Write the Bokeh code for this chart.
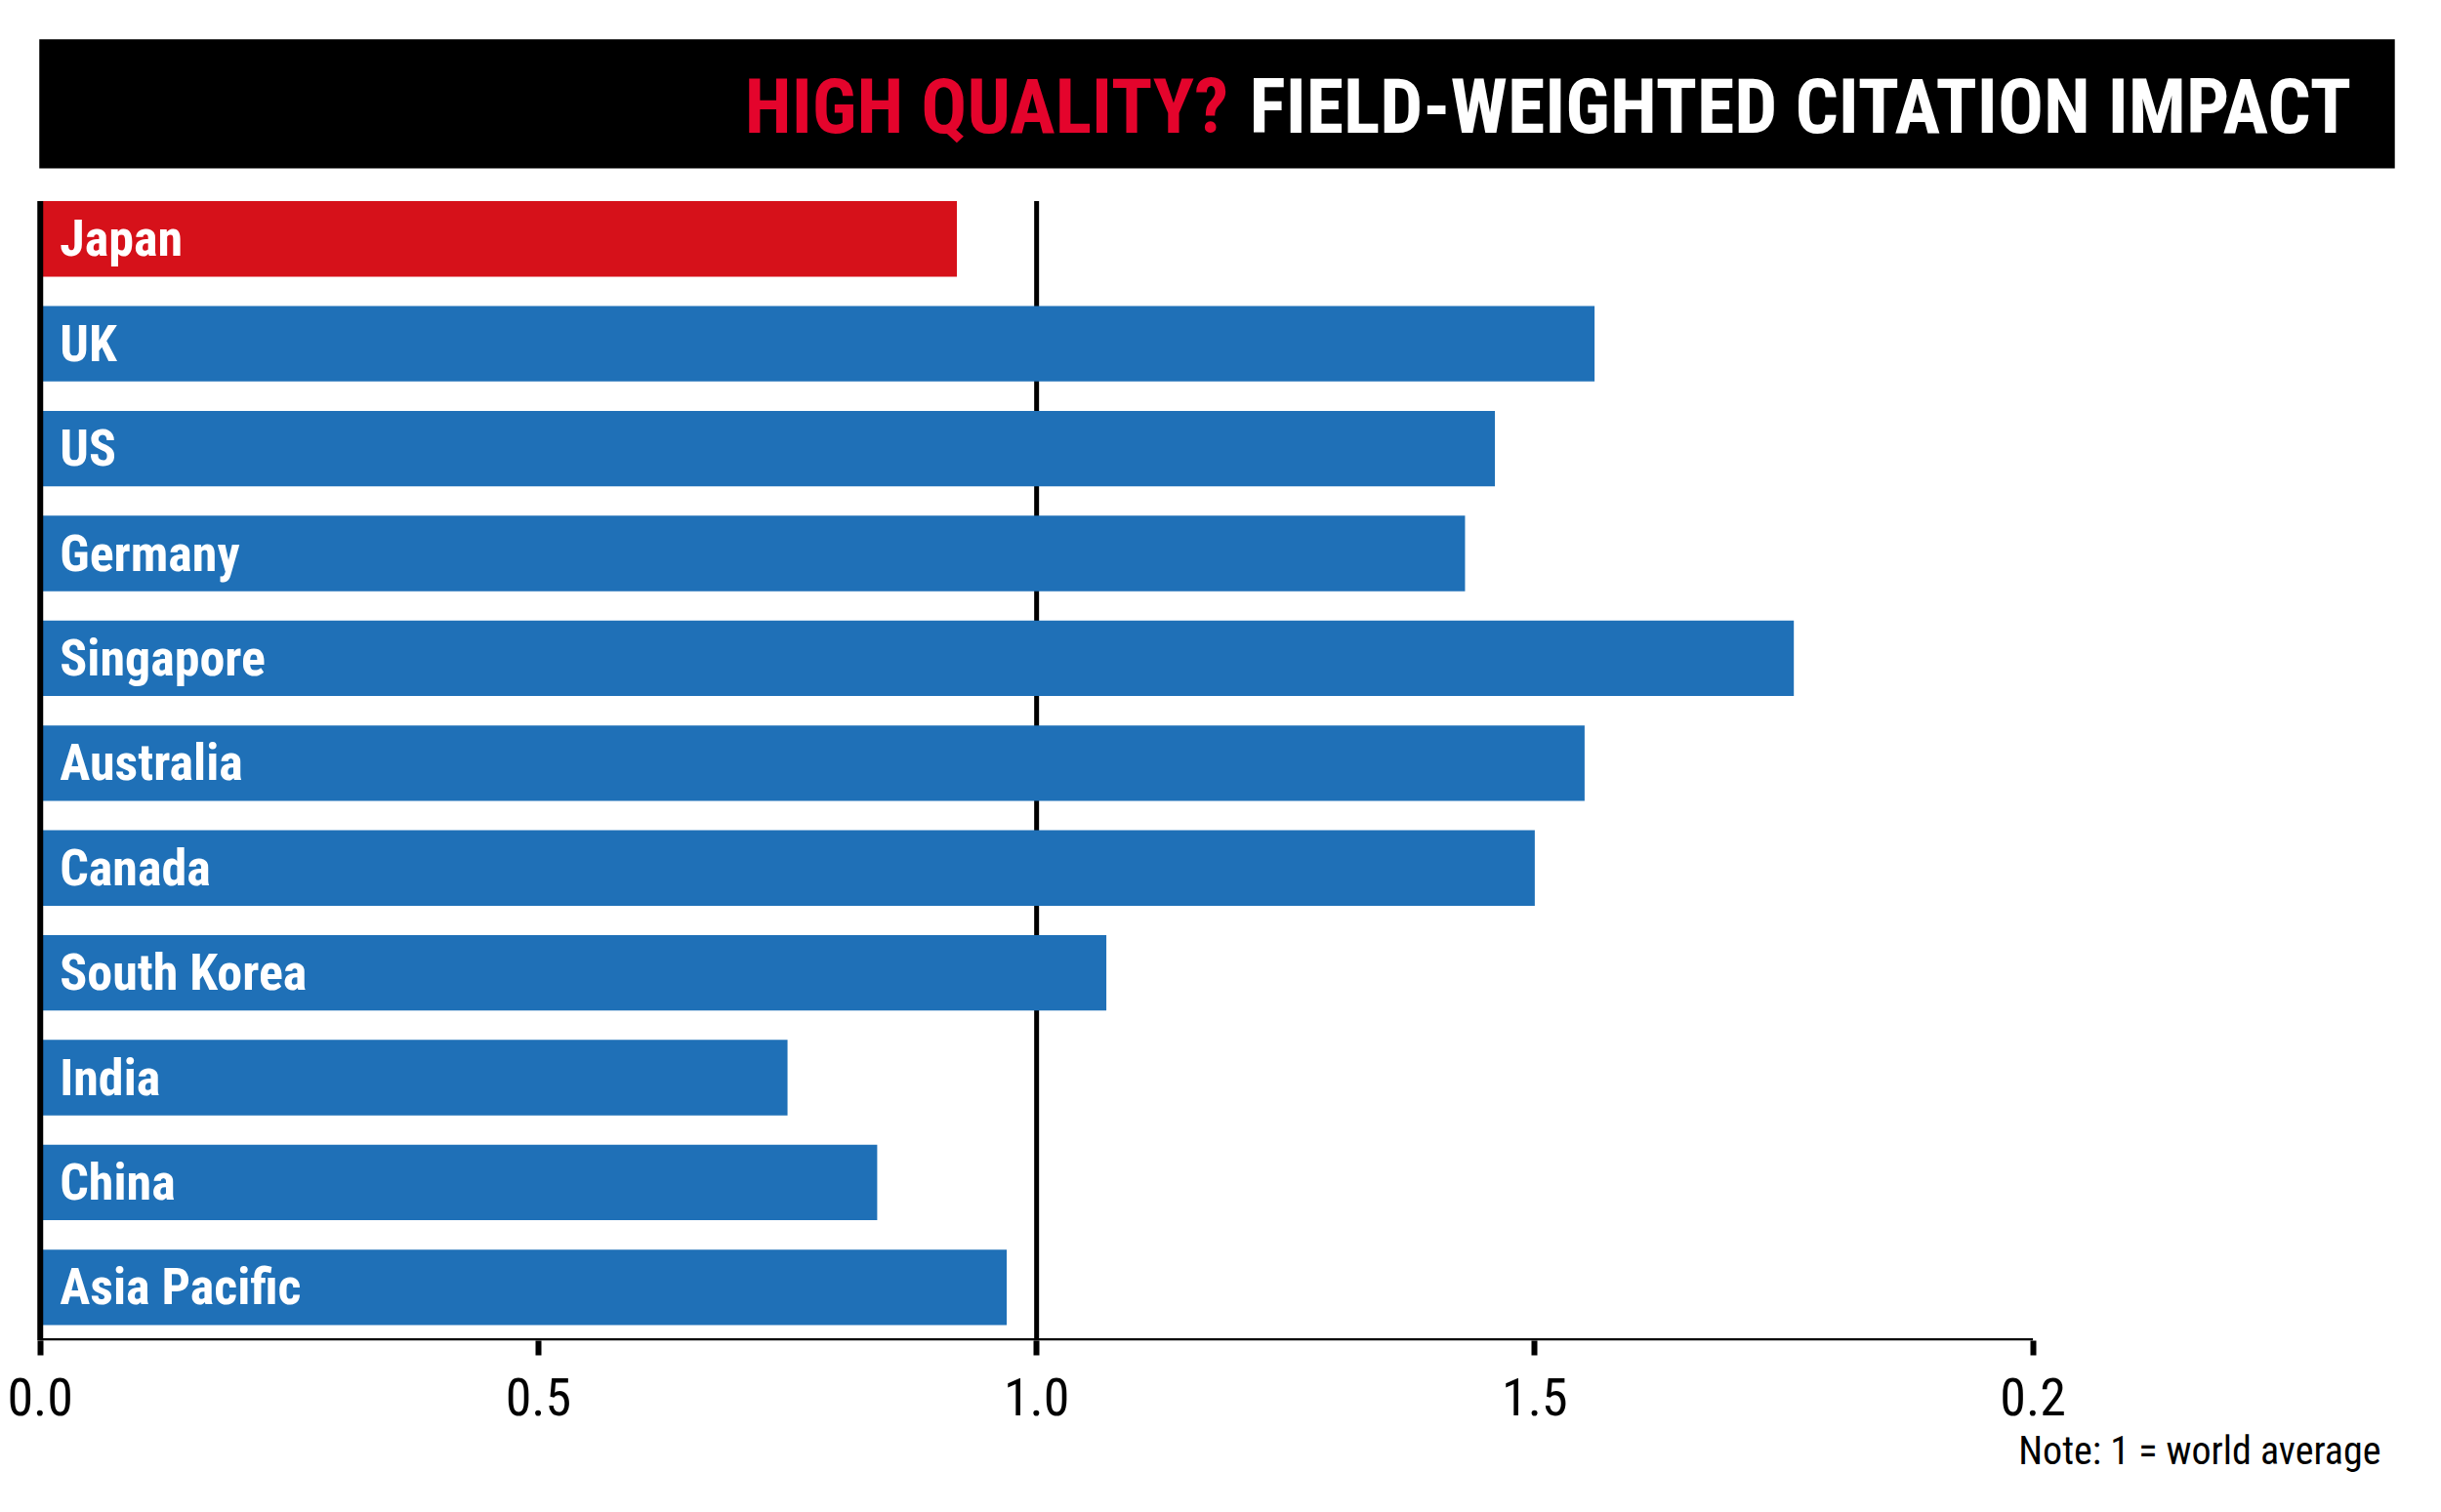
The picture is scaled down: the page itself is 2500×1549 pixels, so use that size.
from bokeh.plotting import figure
from bokeh.models import Range1d, FixedTicker, Title, ColumnDataSource
from bokeh.core.properties import value
from bokeh.embed import file_html
from bokeh.resources import INLINE

# ---------------- data ----------------
countries = ["Japan", "UK", "US", "Germany", "Singapore", "Australia",
             "Canada", "South Korea", "India", "China", "Asia Pacific"]
fwci = [0.92, 1.56, 1.46, 1.43, 1.76, 1.55, 1.50, 1.07, 0.75, 0.84, 0.97]
tick_values = [0.0, 0.5, 1.0, 1.5, 2.0]
tick_labels = ["0.0", "0.5", "1.0", "1.5", "0.2"]
reference_value = 1.0
highlight = "Japan"
title_red = "HIGH QUALITY?"
title_white = "FIELD-WEIGHTED CITATION IMPACT"
note_text = "Note: 1 = world average"

# ---------------- style ----------------
BLUE = "#1F70B7"
RED = "#D6111A"
TITLE_RED = "#E4042C"
FONT = "Roboto Condensed, Roboto, sans-serif"

# ---------------- layout ----------------
FIG_W, FIG_H = 2484, 1533
REF_W = 2500
K = FIG_W / REF_W            # figure pixels per reference pixel
FRAME_BOTTOM_REF = 1382.0
FRAME_H = int(round(FRAME_BOTTOM_REF * K))
PX_PER_UNIT = 1027.0         # reference pixels per unit of x
X0_REF = 41.0
ROW0_REF = 245.85
ROW_PX = 108.1
BAR_H = 0.72


def xd(ref_x):
    return (ref_x - X0_REF) / PX_PER_UNIT


def yd(ref_y):
    return (ref_y - ROW0_REF) / ROW_PX


x_range = Range1d(xd(0), xd(REF_W))
y_range = Range1d(yd(FRAME_H / K), yd(0))  # flipped: first row on top

p = figure(frame_width=FIG_W, frame_height=FRAME_H,
           x_range=x_range, y_range=y_range,
           output_backend="svg", toolbar_location=None,
           min_border=0, min_border_bottom=FIG_H - FRAME_H,
           y_axis_location=None, x_axis_location="below")
p.outline_line_color = None
p.grid.visible = False
p.background_fill_color = "white"
p.border_fill_color = "white"

# title bar
p.quad(left=[xd(40)], right=[xd(2468)], top=[yd(40)], bottom=[yd(173)],
       fill_color="black", line_color=None)

# title text (two colours): white part right-aligned, red part placed before it
TITLE_PX = 78
WIDTH_PER_PX_WHITE = 14.386   # rendered width / font px for the white part
title_right = 2423
title_gap = 28
white_w_ref = WIDTH_PER_PX_WHITE * TITLE_PX / K
p.text(x=[xd(title_right)], y=[yd(110)], text=[title_white],
       text_align="right", text_baseline="middle",
       text_font=value(FONT), text_font_style="bold",
       text_font_size=f"{TITLE_PX}px", text_color="white")
p.text(x=[xd(title_right - white_w_ref - title_gap)], y=[yd(110)], text=[title_red],
       text_align="right", text_baseline="middle",
       text_font=value(FONT), text_font_style="bold",
       text_font_size=f"{TITLE_PX}px", text_color=TITLE_RED)

# reference line at 1.0 (behind bars)
bar_top = -BAR_H / 2
p.segment(x0=[reference_value], x1=[reference_value], y0=[bar_top], y1=[y_range.start],
          line_color="black", line_width=5)

# bars
idx = list(range(len(countries)))
src = ColumnDataSource(dict(
    y=idx, right=fwci, name=countries,
    color=[RED if c == highlight else BLUE for c in countries]))
p.hbar(y="y", left=0, right="right", height=BAR_H, source=src,
       fill_color="color", line_color=None)
p.text(x=0, y="y", text="name", source=src, x_offset=20,
       text_align="left", text_baseline="middle",
       text_font=value(FONT), text_font_style="bold",
       text_font_size="52px", text_color="white")

# y axis line
p.segment(x0=[0], x1=[0], y0=[bar_top], y1=[y_range.start],
          line_color="black", line_width=6)
# x axis line (only over data extent)
p.segment(x0=[tick_values[0]], x1=[tick_values[-1]], y0=[yd(1380.5)], y1=[yd(1380.5)],
          line_color="black", line_width=2.5)

ax = p.xaxis[0]
ax.ticker = FixedTicker(ticks=tick_values)
ax.major_label_overrides = dict(zip(tick_values, tick_labels))
ax.axis_line_color = None
ax.major_tick_line_color = "black"
ax.major_tick_line_width = 6
ax.major_tick_out = 15
ax.major_tick_in = 0
ax.minor_tick_line_color = None
ax.major_label_text_font = FONT
ax.major_label_text_font_size = "54px"
ax.major_label_text_color = "black"
ax.major_label_standoff = 23

note = Title(text=note_text, align="right", text_font=FONT,
             text_font_size="40px", text_font_style="normal",
             text_color="black", offset=46, standoff=17)
p.add_layout(note, "below")

open("out.html", "w").write(file_html(p, INLINE))
